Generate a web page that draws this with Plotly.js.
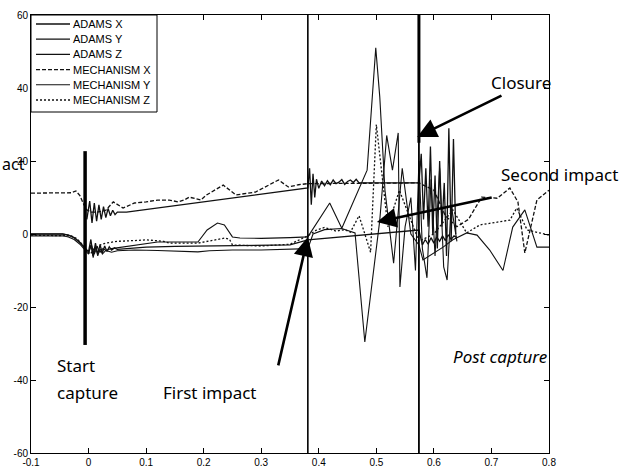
<!DOCTYPE html>
<html>
<head>
<meta charset="utf-8">
<script src="https://cdn.plot.ly/plotly-3.0.1.min.js"></script>
<style>html,body{margin:0;padding:0;background:#fff;}#chart{width:632px;height:471px;}</style>
</head>
<body>
<div id="chart"></div>
<script>
// ---- data ----
var seriesNames = ['ADAMS X', 'ADAMS Y', 'ADAMS Z', 'MECHANISM X', 'MECHANISM Y', 'MECHANISM Z'];

var adamsX_t = [-0.003, 0.002, 0.006, 0.01, 0.014, 0.018, 0.022, 0.026, 0.03, 0.034, 0.038, 0.042, 0.046, 0.05, 0.066, 0.381, 0.384, 0.387, 0.39, 0.393, 0.396, 0.40, 0.405, 0.41, 0.415, 0.42, 0.425, 0.43, 0.435, 0.44, 0.445, 0.45, 0.455, 0.46, 0.465, 0.47, 0.574, 0.578, 0.582, 0.586, 0.59, 0.594, 0.598, 0.602, 0.606, 0.61, 0.614, 0.618, 0.622, 0.626, 0.63, 0.634, 0.638];
var adamsX_v = [4, 9, 3, 8.5, 3.5, 8, 4, 7.5, 4.5, 7, 5, 6.5, 5.3, 6, 6, 12.6, 18, 8, 16.5, 10, 15, 12.5, 14.5, 13.2, 14.6, 13.5, 14.8, 13.8, 14.2, 14.9, 13.6, 14.4, 14.8, 14.1, 15, 14, 14, 22, 4, 18, 2, 24, 0, 16, -4, 20, 2, 14, -6, 29, -2, 26, 0];

var adamsY_t = [-0.1, -0.045, -0.035, -0.025, -0.015, -0.006, 0.0, 0.004, 0.008, 0.012, 0.016, 0.02, 0.024, 0.028, 0.032, 0.036, 0.04, 0.045, 0.05, 0.07, 0.1, 0.15, 0.2, 0.25, 0.3, 0.35, 0.381, 0.574, 0.58, 0.585, 0.59, 0.595, 0.6, 0.605, 0.61, 0.615, 0.62, 0.625, 0.63, 0.635, 0.64];
var adamsY_v = [0, 0, -0.3, -1, -2.3, -4, -4.8, -1.5, -6, -2.5, -5.5, -3, -5.2, -3.3, -4.8, -3.5, -4.4, -3.8, -4.2, -4, -3.6, -3.4, -3.3, -3.3, -3.2, -3, -1.6, 1.1, -3, -1.5, -2.8, -1, -2.5, -0.8, -2, -0.5, -1.8, -0.2, -1.5, -0.5, -1];

var adamsZ_t = [-0.1, -0.045, -0.035, -0.025, -0.015, -0.006, 0.0, 0.004, 0.008, 0.012, 0.016, 0.02, 0.024, 0.03, 0.04, 0.05, 0.08, 0.12, 0.16, 0.19, 0.21, 0.25, 0.3, 0.35, 0.381, 0.39, 0.41, 0.44, 0.463, 0.48, 0.506, 0.518, 0.528, 0.538, 0.541, 0.55, 0.56, 0.568, 0.574, 0.58, 0.588, 0.595, 0.602, 0.61, 0.617, 0.623, 0.63, 0.64];
var adamsZ_v = [-0.5, -0.5, -0.8, -1.5, -2.8, -4.5, -5.5, -3, -6.5, -3.5, -6, -4, -5.5, -4.5, -5, -4.6, -4.4, -4.5, -4.7, -4.9, -4.6, -4.4, -4.4, -4.2, -4, 0, 1.2, 1.5, 0.3, -29.6, 3.8, 27, 17.5, 27.7, -14.5, 2, 10, -10, 20, -4, -12, 15, -6, 18, -9, -12.6, 8, -2];

var mechX_t = [-0.1, -0.05, -0.03, -0.022, -0.015, -0.008, -0.003, 0.005, 0.015, 0.03, 0.043, 0.06, 0.08, 0.1, 0.12, 0.14, 0.156, 0.166, 0.175, 0.195, 0.205, 0.234, 0.256, 0.29, 0.33, 0.347, 0.365, 0.381, 0.574, 0.6, 0.62, 0.64, 0.66, 0.683, 0.71, 0.732, 0.746, 0.758, 0.779, 0.8];
var mechX_v = [11.2, 11.2, 11.3, 11.8, 10.5, 8, 6.6, 6, 6, 6.5, 8.8, 7.1, 8.5, 8.8, 9.3, 9.3, 8.8, 9.3, 10.1, 9.3, 10.7, 13.4, 10.7, 11.5, 14.8, 12.9, 13.5, 13.8, 14, 12, 5, 2, 4, 10.1, 9.8, 12.6, 8.8, -5.2, 9.3, 12];

var mechY_t = [-0.1, -0.045, -0.035, -0.025, -0.015, -0.006, 0.0, 0.005, 0.01, 0.015, 0.02, 0.025, 0.03, 0.04, 0.06, 0.08, 0.1, 0.12, 0.15, 0.19, 0.206, 0.224, 0.236, 0.25, 0.263, 0.3, 0.35, 0.381, 0.419, 0.44, 0.484, 0.499, 0.506, 0.515, 0.53, 0.545, 0.56, 0.574, 0.581, 0.616, 0.633, 0.657, 0.675, 0.697, 0.72, 0.737, 0.758, 0.779, 0.8];
var mechY_v = [0, 0, -0.3, -1, -2.3, -4, -5, -3, -5.5, -3.5, -5, -4, -4.5, -4, -3.5, -3, -2.5, -2.2, -2.2, -2.2, 1.1, 3.0, 2.5, -0.8, -1.1, -1.2, -1, -0.8, 8.5, 1.6, 17.5, 51, 37.5, 12, -8, 18, 0, -3, -7.1, -3.6, -1.6, 0.3, -0.3, -4.4, -10, 1.9, 6.6, -3.6, -3.6];

var mechZ_t = [-0.1, -0.05, -0.03, -0.02, -0.01, -0.003, 0.003, 0.01, 0.02, 0.03, 0.05, 0.08, 0.1, 0.13, 0.141, 0.19, 0.22, 0.237, 0.245, 0.25, 0.3, 0.35, 0.381, 0.395, 0.41, 0.43, 0.445, 0.455, 0.47, 0.49, 0.5, 0.52, 0.54, 0.574, 0.6, 0.633, 0.657, 0.68, 0.732, 0.744, 0.762, 0.784, 0.8];
var mechZ_v = [-0.3, -0.3, -0.5, -1.3, -3, -4.5, -5.5, -4, -3, -2.5, -2, -1.8, -1.6, -2, -2.5, -2.5, -1.5, -1.1, -1.5, -3, -3.3, -2.8, -0.5, 1, 1.8, 0.8, 1.2, 0.5, 5, -5, 30, 2, 12, -2, 0, 6.6, 0.3, 2.5, 3.8, 7.1, 1.1, 0.3, -0.3];

// event markers: start capture, first impact, closure
var eventNames = ['Start capture', 'First impact', 'Closure'];
var eventT = [-0.006, 0.381, 0.574];
var startBarRange = [22.7, -30.4];
var fullRange = [60, -60];
var closureThickRange = [60, 25];

var xTicks = [-0.1, 0, 0.1, 0.2, 0.3, 0.4, 0.5, 0.6, 0.7, 0.8];
var xTickText = ['-0.1', '0', '0.1', '0.2', '0.3', '0.4', '0.5', '0.6', '0.7', '0.8'];
var yTicks = [-60, -40, -20, 0, 20, 40, 60];
var yTickText = ['-60', '-40', '-20', '0', '20', '40', '60'];

// ---- build traces ----
var styles = [
  {width: 1.3, dash: 'solid'},
  {width: 1.3, dash: 'solid'},
  {width: 1.1, dash: 'solid'},
  {width: 1.3, dash: '4px,2px'},
  {width: 1.1, dash: 'solid'},
  {width: 1.3, dash: '2px,2px'}
];
var tArr = [adamsX_t, adamsY_t, adamsZ_t, mechX_t, mechY_t, mechZ_t];
var vArr = [adamsX_v, adamsY_v, adamsZ_v, mechX_v, mechY_v, mechZ_v];
var traces = [];
for (var i = 0; i < seriesNames.length; i++) {
  traces.push({
    type: 'scatter', mode: 'lines', name: seriesNames[i], showlegend: false,
    x: tArr[i], y: vArr[i],
    line: {color: '#111', width: styles[i].width, dash: styles[i].dash}
  });
}
// event lines
traces.push({type: 'scatter', mode: 'lines', showlegend: false, hoverinfo: 'skip',
  x: [eventT[0], eventT[0]], y: startBarRange, line: {color: '#000', width: 3.5}});
traces.push({type: 'scatter', mode: 'lines', showlegend: false, hoverinfo: 'skip',
  x: [eventT[1], eventT[1]], y: fullRange, line: {color: '#000', width: 1.6}});
traces.push({type: 'scatter', mode: 'lines', showlegend: false, hoverinfo: 'skip',
  x: [eventT[2], eventT[2]], y: fullRange, line: {color: '#000', width: 1.8}});
traces.push({type: 'scatter', mode: 'lines', showlegend: false, hoverinfo: 'skip',
  x: [eventT[2], eventT[2]], y: closureThickRange, line: {color: '#000', width: 3}});

// ---- layout helpers ----
var W = 632, H = 471, ML = 31, MR = 83, MT = 15, MB = 18;
var PW = W - ML - MR, PH = H - MT - MB;
function px2paperX(px) { return (px - ML) / PW; }
function py2paperY(py) { return (H - MB - py) / PH; }

var labelFont = {family: 'Noto Sans, DejaVu Sans, sans-serif', size: 17, color: '#000'};
function arrow(hx, hy, tx, ty) {
  return {x: hx, y: hy, ax: tx, ay: ty, xref: 'x', yref: 'y', axref: 'x', ayref: 'y',
    text: '', showarrow: true, arrowhead: 2, arrowsize: 1.5, arrowwidth: 2.6,
    arrowcolor: '#000', standoff: 0, startstandoff: 0};
}
function labelPx(txt, px, py, xanchor, font) {
  return {x: px2paperX(px), y: py2paperY(py), xref: 'paper', yref: 'paper', text: txt, showarrow: false,
    xanchor: xanchor || 'center', yanchor: 'middle', font: font || labelFont};
}
var annotations = [
  labelPx('Start', 55, 365, 'left'),
  labelPx('capture', 55, 392, 'left'),
  labelPx('First impact', 210, 392),
  labelPx('Closure', 521, 82),
  labelPx('Second impact', 559, 174),
  labelPx('<i>Post capture</i>', 500, 356),
  labelPx('act', 0, 164, 'left', {family: 'Noto Sans, DejaVu Sans, sans-serif', size: 16, color: '#000'}),
  arrow(0.381, -0.8, 0.329, -36.4),
  arrow(0.571, 26.6, 0.72, 38.1),
  arrow(0.501, 3.3, 0.703, 10.1)
];

// ---- custom compact legend (box, sample lines, names) ----
var legendFont = {family: 'Liberation Sans, Arial, sans-serif', size: 11, color: '#000'};
var shapes = [{type: 'rect', xref: 'paper', yref: 'paper', x0: px2paperX(31), x1: px2paperX(157),
  y0: py2paperY(112), y1: 1, fillcolor: '#fff', line: {color: '#000', width: 1}, layer: 'above'}];
for (var k = 0; k < seriesNames.length; k++) {
  var ly = 24 + k * 15.2;
  shapes.push({type: 'line', xref: 'paper', yref: 'paper', x0: px2paperX(36), x1: px2paperX(70),
    y0: py2paperY(ly), y1: py2paperY(ly), line: {color: '#111', width: styles[k].width, dash: styles[k].dash}, layer: 'above'});
  annotations.push({x: px2paperX(71), y: py2paperY(ly), xref: 'paper', yref: 'paper', text: seriesNames[k],
    showarrow: false, xanchor: 'left', yanchor: 'middle', font: legendFont});
}

var axisFont = {family: 'Liberation Sans, Arial, sans-serif', size: 10, color: '#000'};
var layout = {
  width: W, height: H,
  margin: {l: ML, r: MR, t: MT, b: MB, pad: 0},
  paper_bgcolor: '#fff', plot_bgcolor: '#fff',
  showlegend: false,
  xaxis: {range: [-0.1, 0.8], tickvals: xTicks, ticktext: xTickText, ticks: 'inside', ticklen: 5,
    tickcolor: '#000', showline: true, linecolor: '#000', linewidth: 1, mirror: 'ticks',
    showgrid: false, zeroline: false, tickfont: axisFont, fixedrange: true},
  yaxis: {range: [-60, 60], tickvals: yTicks, ticktext: yTickText, ticks: 'inside', ticklen: 5,
    tickcolor: '#000', showline: true, linecolor: '#000', linewidth: 1, mirror: 'ticks',
    showgrid: false, zeroline: false, tickfont: axisFont, fixedrange: true},
  annotations: annotations,
  shapes: shapes
};
Plotly.newPlot('chart', traces, layout, {displayModeBar: false, staticPlot: true});
</script>
</body>
</html>
